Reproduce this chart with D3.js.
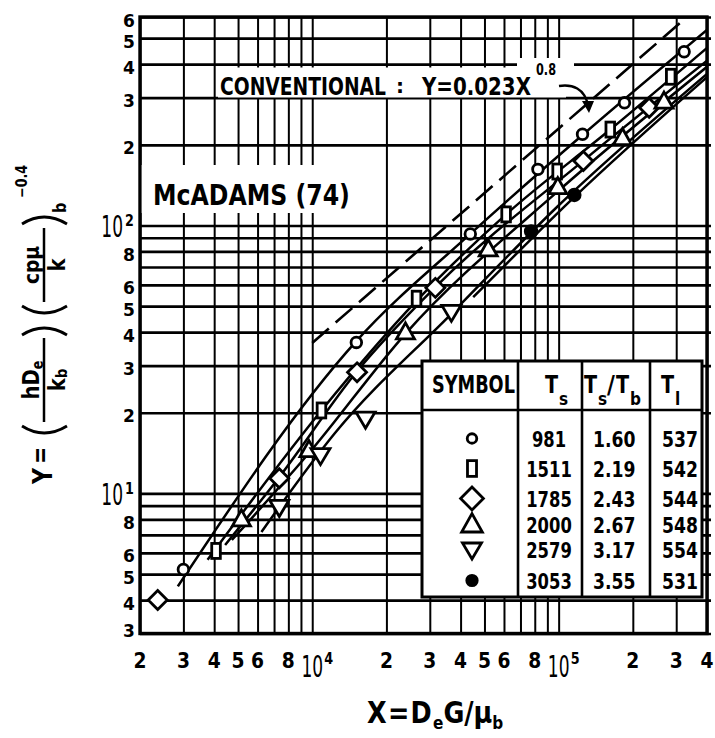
<!DOCTYPE html>
<html>
<head>
<meta charset="utf-8">
<script src="https://cdn.jsdelivr.net/npm/d3@7"></script>
<style>
  body { margin: 0; background: #fff; }
  svg { display: block; }
</style>
</head>
<body>
<svg id="chart" width="715" height="738"></svg>
<script>
// ---------- data ----------
const xDomain = [2000, 400000];
const yDomain = [3, 600];

const xGridValues = [2000, 3000, 4000, 5000, 6000, 7000, 8000, 9000,
  10000, 20000, 30000, 40000, 50000, 60000, 70000, 80000, 90000,
  100000, 200000, 300000, 400000];
const yGridValues = [3, 4, 5, 6, 7, 8, 9, 10, 20, 30, 40, 50, 60, 70, 80, 90,
  100, 200, 300, 400, 500, 600];

// tick labels: [value, text, exponent]
const xTickLabels = [[2000, "2"], [3000, "3"], [4000, "4"], [5000, "5"], [6000, "6"], [8000, "8"],
  [10000, "10", "4"], [20000, "2"], [30000, "3"], [40000, "4"], [50000, "5"], [60000, "6"], [80000, "8"],
  [100000, "10", "5"], [200000, "2"], [300000, "3"], [400000, "4"]];
const yTickLabels = [[3, "3"], [4, "4"], [5, "5"], [6, "6"], [8, "8"], [10, "10", "1"],
  [20, "2"], [30, "3"], [40, "4"], [50, "5"], [60, "6"], [80, "8"], [100, "10", "2"],
  [200, "2"], [300, "3"], [400, "4"], [500, "5"], [600, "6"]];

// measured points [X, Y] per wall temperature
const pointsCircle   = [[3000, 5.2], [15100, 36.6], [43800, 93], [82400, 162], [125000, 219], [185000, 287], [323000, 445]];
const pointsRect     = [[4070, 6.1], [10900, 20.4], [26500, 53.3], [61200, 110], [98600, 159], [162000, 228], [285000, 359]];
const pointsDiamond  = [[2360, 4.0], [7350, 11.4], [15200, 28.3], [31600, 58.5], [126000, 174], [233000, 275]];
const pointsTriUp    = [[5160, 8.0], [9700, 14.5], [23900, 39.9], [51800, 81.5], [99200, 139], [181600, 212], [267600, 290]];
const pointsTriDown  = [[7350, 8.9], [10800, 13.9], [16450, 19.0], [36700, 47.6]];
const pointsDot      = [[77300, 95], [115800, 130]];

// drawn correlation curves [X, Y]
const curveCircle  = [[2850, 4.5], [15000, 36.8], [43800, 93], [126000, 219], [400000, 537]];
const curveRect    = [[3760, 5.65], [10900, 20.4], [26500, 52.3], [61200, 110], [162000, 228], [400000, 460]];
const curveDiamond = [[4430, 6.42], [7400, 11.6], [15170, 28.5], [31600, 58.9], [126400, 175], [400000, 412]];
const curveTriUp   = [[4720, 6.7], [9800, 14.3], [23930, 39.5], [99200, 134], [400000, 391]];
const curveTriDown = [[6220, 7.18], [12370, 16.8], [36700, 46.8], [99200, 118], [400000, 368]];
const curveDot     = [[45000, 54], [114000, 126], [400000, 358]];

// conventional correlation Y = 0.023 X^0.8, drawn from X = 10^4 upward
const conventionalCoef = 0.023;
const conventionalExp = 0.8;
const conventionalStartX = 10000;

// legend table
const legendSymbols = ["circle", "rect", "diamond", "triUp", "triDown", "dot"];
const legendTs = ["981", "1511", "1785", "2000", "2579", "3053"];
const legendRatio = ["1.60", "2.19", "2.43", "2.67", "3.17", "3.55"];
const legendTl = ["537", "542", "544", "548", "554", "531"];

// ---------- layout ----------
const FONT = "'DejaVu Sans', 'Liberation Sans', Arial, sans-serif";
const L = 140, R = 707, T = 17, B = 633.5;
const svg = d3.select("#chart").attr("font-family", FONT);
svg.append("rect").attr("width", 715).attr("height", 738).attr("fill", "#fff");

const x = d3.scaleLog().domain(xDomain).range([L, R]);
const y = d3.scaleLog().domain(yDomain).range([B, T]);

// ---------- grid (drawn with d3 axes) ----------
const hGrid = svg.append("g").attr("transform", `translate(${L},0)`)
  .call(d3.axisRight(y).tickValues(yGridValues).tickSize(R - L + 4).tickFormat(""));
hGrid.select(".domain").remove();
hGrid.selectAll("line").attr("stroke", "#000").attr("stroke-width", 2.7);

const vGrid = svg.append("g").attr("transform", `translate(0,${B})`)
  .call(d3.axisTop(x).tickValues(xGridValues).tickSize(B - T).tickFormat(""));
vGrid.select(".domain").remove();
vGrid.selectAll("line").attr("stroke", "#000").attr("stroke-width", 2);

// plot frame
svg.append("rect").attr("x", L).attr("y", T).attr("width", R - L).attr("height", B - T)
  .attr("fill", "none").attr("stroke", "#000").attr("stroke-width", 3.4);

// ---------- helpers ----------
// text at (px, py); `fit` squeezes the string horizontally to the given width
function label(parent, px, py, str, size, opts = {}) {
  const t = parent.append("text")
    .attr("font-size", size)
    .attr("font-weight", opts.weight || "bold")
    .attr("text-anchor", opts.anchor || "middle")
    .text(str);
  let sx = opts.sx || 1;
  if (opts.fit) sx = opts.fit / t.node().getComputedTextLength();
  t.attr("transform", `translate(${px},${py}) scale(${sx},1)`);
  return t;
}

function symbol(parent, type, cx, cy, s = 1) {
  const g = parent.append("g").attr("transform", `translate(${cx},${cy})`)
    .attr("stroke", "#000").attr("stroke-width", 2.8).attr("fill", "#fff")
    .attr("stroke-linejoin", "miter");
  if (type === "circle") g.append("circle").attr("r", 5.3 * s);
  else if (type === "rect") g.append("rect").attr("x", -4.3 * s).attr("y", -7.5 * s).attr("width", 8.6 * s).attr("height", 15 * s);
  else if (type === "diamond") { const h = 9.5 * s; g.append("path").attr("d", `M0,${-h}L${h},0L0,${h}L${-h},0Z`); }
  else if (type === "triUp") g.append("path").attr("d", `M0,${-9.5 * s}L${9 * s},${6.5 * s}L${-9 * s},${6.5 * s}Z`);
  else if (type === "triDown") g.append("path").attr("d", `M0,${9.5 * s}L${9.5 * s},${-6.5 * s}L${-9.5 * s},${-6.5 * s}Z`);
  else if (type === "dot") g.append("circle").attr("r", 5.8 * s).attr("fill", "#000");
  return g;
}

// ---------- axis tick labels ----------
const yLab = svg.append("g");
yTickLabels.forEach(([v, t, e]) => {
  const py = y(v);
  if (e) {
    label(yLab, 123, py + 12, t, 31, { weight: "normal", anchor: "end", sx: 0.55 });
    label(yLab, 125, py + 1, e, 15, { anchor: "start", sx: 0.85 });
  } else {
    label(yLab, 135, Math.min(py + 9.5, 637), t, 18, { anchor: "end", sx: 0.95 });
  }
});

const xLab = svg.append("g");
xTickLabels.forEach(([v, t, e]) => {
  const px = x(v);
  if (e) {
    label(xLab, px, 677, t, 31, { weight: "normal", sx: 0.55 });
    label(xLab, px + 12, 664, e, 15, { anchor: "start", sx: 0.85 });
  } else {
    label(xLab, px, 668, t, 22, { sx: 0.85 });
  }
});

// ---------- annotations with blank backgrounds ----------
const ann = svg.append("g");
ann.append("rect").attr("x", 141.7).attr("y", 165).attr("width", 243).attr("height", 48).attr("fill", "#fff");
ann.append("rect").attr("x", 218).attr("y", 67.5).attr("width", 348).attr("height", 30).attr("fill", "#fff");
ann.append("rect").attr("x", 517).attr("y", 58).attr("width", 57).attr("height", 12).attr("fill", "#fff");

label(ann, 153, 205, "McADAMS (74)", 29, { anchor: "start", fit: 197 });
label(ann, 220, 95, "CONVENTIONAL", 25, { anchor: "start", fit: 166 });
label(ann, 396, 93, ":", 20, { anchor: "start" });
label(ann, 422, 95, "Y=0.023X", 25, { anchor: "start", fit: 109 });
label(ann, 536, 75, "0.8", 15, { anchor: "start", fit: 20 });
ann.append("path").attr("d", "M559,86 C572,84 585,88 588,106")
  .attr("fill", "none").attr("stroke", "#000").attr("stroke-width", 2.4);
ann.append("path").attr("d", "M582,101 L594,101 L589,113 Z").attr("fill", "#000");

// ---------- curves ----------
svg.append("clipPath").attr("id", "plotClip").append("rect")
  .attr("x", L).attr("y", T).attr("width", R - L).attr("height", B - T);
const plot = svg.append("g").attr("clip-path", "url(#plotClip)");

const lineGen = d3.line().x(d => x(d[0])).y(d => y(d[1])).curve(d3.curveMonotoneX);

const conventionalEndX = Math.pow(yDomain[1] / conventionalCoef, 1 / conventionalExp);
const conventional = [conventionalStartX, conventionalEndX].map(X => [X, conventionalCoef * Math.pow(X, conventionalExp)]);
plot.append("path").attr("d", d3.line().x(d => x(d[0])).y(d => y(d[1]))(conventional))
  .attr("fill", "none").attr("stroke", "#000").attr("stroke-width", 2.6)
  .attr("stroke-dasharray", "22,9");

[curveCircle, curveRect, curveDiamond, curveTriUp, curveTriDown, curveDot].forEach(c => {
  plot.append("path").attr("d", lineGen(c))
    .attr("fill", "none").attr("stroke", "#000").attr("stroke-width", 2.5);
});

const seriesPoints = [
  ["circle", pointsCircle], ["rect", pointsRect], ["diamond", pointsDiamond],
  ["triUp", pointsTriUp], ["triDown", pointsTriDown], ["dot", pointsDot]];
const marks = svg.append("g");
seriesPoints.forEach(([type, pts]) => pts.forEach(p => symbol(marks, type, x(p[0]), y(p[1]))));

// ---------- legend table ----------
const lg = svg.append("g");
const LX0 = 422, LX1 = 702, LY0 = 361, LY1 = 597, LHEAD = 410;
const colLines = [518, 582, 650];
lg.append("rect").attr("x", LX0).attr("y", LY0).attr("width", LX1 - LX0).attr("height", LY1 - LY0)
  .attr("fill", "#fff").attr("stroke", "#000").attr("stroke-width", 3);
lg.append("line").attr("x1", LX0).attr("x2", LX1).attr("y1", LHEAD).attr("y2", LHEAD)
  .attr("stroke", "#000").attr("stroke-width", 2.6);
colLines.forEach(cx => lg.append("line").attr("x1", cx).attr("x2", cx).attr("y1", LY0).attr("y2", LY1)
  .attr("stroke", "#000").attr("stroke-width", 2.6));

label(lg, 432, 393, "SYMBOL", 25, { anchor: "start", fit: 83 });
label(lg, 545, 393, "T", 24, { anchor: "start", sx: 0.8 });
label(lg, 559, 405, "s", 17, { anchor: "start", sx: 0.9 });
label(lg, 584, 393, "T", 24, { anchor: "start", sx: 0.8 });
label(lg, 598, 405, "s", 17, { anchor: "start", sx: 0.9 });
label(lg, 607, 393, "/", 24, { anchor: "start", sx: 0.9 });
label(lg, 616, 393, "T", 24, { anchor: "start", sx: 0.8 });
label(lg, 630, 405, "b", 17, { anchor: "start", sx: 0.9 });
label(lg, 661, 393, "T", 24, { anchor: "start", sx: 0.8 });
label(lg, 675, 405, "l", 17, { anchor: "start", sx: 0.9 });

const rowBase = [447, 477, 507, 533, 558, 589];
const symScale = { circle: 0.9, rect: 1.05, diamond: 1.2, triUp: 1.15, triDown: 1.0, dot: 0.9 };
legendSymbols.forEach((s, i) => {
  const base = rowBase[i];
  symbol(lg, s, 472, base - 8.5, symScale[s]);
  label(lg, 549, base, legendTs[i], 21, { sx: 0.78 });
  label(lg, 593, base, legendRatio[i], 21, { anchor: "start", sx: 0.82 });
  label(lg, 662, base, legendTl[i], 21, { anchor: "start", sx: 0.82 });
});

// ---------- axis titles ----------
const xt = svg.append("text").attr("transform", "translate(367,723) scale(0.85,1)")
  .attr("font-weight", "bold").attr("font-size", 30).attr("text-anchor", "start");
xt.append("tspan").text("X=D").attr("letter-spacing", 1.5);
xt.append("tspan").text("e").attr("font-size", 18).attr("dy", 6);
xt.append("tspan").text("G/μ").attr("dy", -6);
xt.append("tspan").text("b").attr("font-size", 18).attr("dy", 6);

// Y title, rotated: local x = -screen y, local y = screen x - 43
const yt = svg.append("g").attr("transform", "translate(43,0) rotate(-90)");
function yPart(px, py, str, size, anchor = "start", sx = 0.85) {
  return yt.append("text").attr("transform", `translate(${px},${py}) scale(${sx},1)`)
    .attr("font-size", size).attr("font-weight", "bold").attr("text-anchor", anchor).text(str);
}
const paren = d => yt.append("path").attr("d", d).attr("fill", "none").attr("stroke", "#000").attr("stroke-width", 2.8);
yPart(-484, 9, "Y", 26);
yPart(-464, 6, "=", 24);
paren("M-426,-21 Q-440,1 -426,24");
yt.append("line").attr("x1", -422).attr("x2", -338).attr("y1", 1).attr("y2", 1).attr("stroke", "#000").attr("stroke-width", 2.5);
const num1 = yPart(-380, -4, "hD", 23, "middle");
num1.append("tspan").text("e").attr("font-size", 15).attr("dy", 4);
const den1 = yPart(-380, 22, "k", 23, "middle");
den1.append("tspan").text("b").attr("font-size", 16).attr("dy", 2);
paren("M-335,-21 Q-321,1 -335,24");
paren("M-306,-21 Q-320,1 -306,24");
yt.append("line").attr("x1", -302).attr("x2", -228).attr("y1", 1).attr("y2", 1).attr("stroke", "#000").attr("stroke-width", 2.5);
yPart(-265, -4, "cpμ", 22, "middle");
yPart(-265, 22, "k", 23, "middle");
paren("M-224,-21 Q-210,1 -224,24");
yPart(-213, 23, "b", 17);
yPart(-198, -16, "−0.4", 15);
</script>
</body>
</html>
